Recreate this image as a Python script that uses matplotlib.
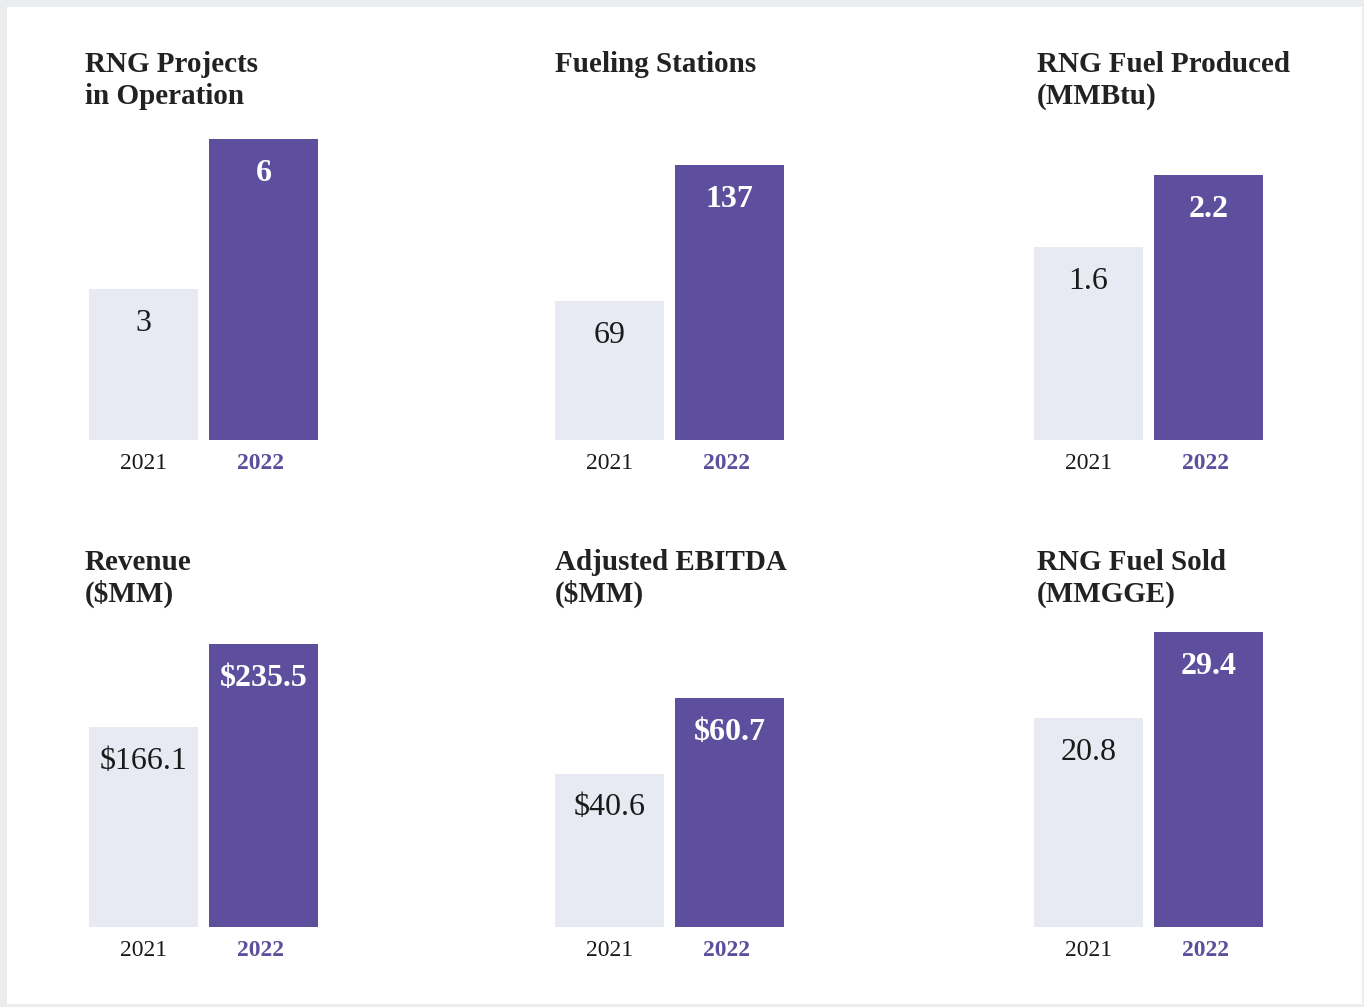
import matplotlib
matplotlib.use("Agg")
import matplotlib.pyplot as plt
from matplotlib.patches import Rectangle

# ---- data ----
titles = [
    ["RNG Projects", "in Operation"],
    ["Fueling Stations"],
    ["RNG Fuel Produced", "(MMBtu)"],
    ["Revenue", "($MM)"],
    ["Adjusted EBITDA", "($MM)"],
    ["RNG Fuel Sold", "(MMGGE)"],
]
years = ["2021", "2022"]
values_2021 = [3, 69, 1.6, 166.1, 40.6, 20.8]
values_2022 = [6, 137, 2.2, 235.5, 60.7, 29.4]
labels_2021 = ["3", "69", "1.6", "$166.1", "$40.6", "20.8"]
labels_2022 = ["6", "137", "2.2", "$235.5", "$60.7", "29.4"]

# ---- style / layout ----
W, H = 1364, 1007
PURPLE = "#5D4E9E"
LIGHT = "#E7E9F3"
TEXT = "#1A1A1A"
FONT = ["Liberation Serif", "DejaVu Serif"]
plt.rcParams["font.family"] = FONT

fig = plt.figure(figsize=(W / 100, H / 100), dpi=100)
fig.patch.set_facecolor("#EBECEE")
fig.patches.append(Rectangle((7 / W, 1 - 1004 / H), (1362 - 7) / W, (1004 - 7) / H,
                             transform=fig.transFigure, facecolor="white",
                             edgecolor="none", zorder=-10))

col_left = [89, 555, 1034]
title_left = [85, 555, 1037]
row_bottom = [440, 927]
row_title_base = [72, 570]
max_h = [301, 275, 265, 283, 229, 295]  # pixel height of tallest bar
axw = 229
xlim = (-0.454, 1.454)
width = 0.908

for i in range(6):
    r, c = divmod(i, 3)
    left = col_left[c]
    bottom = row_bottom[r]
    h = max_h[i]
    ax = fig.add_axes([left / W, 1 - bottom / H, axw / W, h / H])
    ax.set_xlim(*xlim)
    vmax = max(values_2021[i], values_2022[i])
    ax.set_ylim(0, vmax)
    ax.bar([0, 1], [values_2021[i], values_2022[i]], width=width,
           color=[LIGHT, PURPLE], linewidth=0)
    ax.axis("off")
    # value labels
    ax.annotate(labels_2021[i], (0, values_2021[i]), xytext=(0, -30),
                textcoords="offset points", ha="center", va="baseline",
                fontsize=23, color=TEXT)
    ax.annotate(labels_2022[i], (1, values_2022[i]), xytext=(0, -30),
                textcoords="offset points", ha="center", va="baseline",
                fontsize=23, color="white", fontweight="bold")
    # year labels
    ax.annotate(years[0], (0, 0), xytext=(0, -21), textcoords="offset points",
                ha="center", va="baseline", fontsize=17, color=TEXT,
                annotation_clip=False)
    ax.annotate(years[1], (1, 0), xytext=(-2, -21), textcoords="offset points",
                ha="center", va="baseline", fontsize=17, color=PURPLE,
                fontweight="bold", annotation_clip=False)
    # titles
    for k, line in enumerate(titles[i]):
        fig.text(title_left[c] / W, 1 - (row_title_base[r] + 32 * k) / H, line,
                 ha="left", va="baseline", fontsize=21, fontweight="bold",
                 color="#222222")

fig.savefig("out.png", dpi=100, facecolor=fig.get_facecolor())
